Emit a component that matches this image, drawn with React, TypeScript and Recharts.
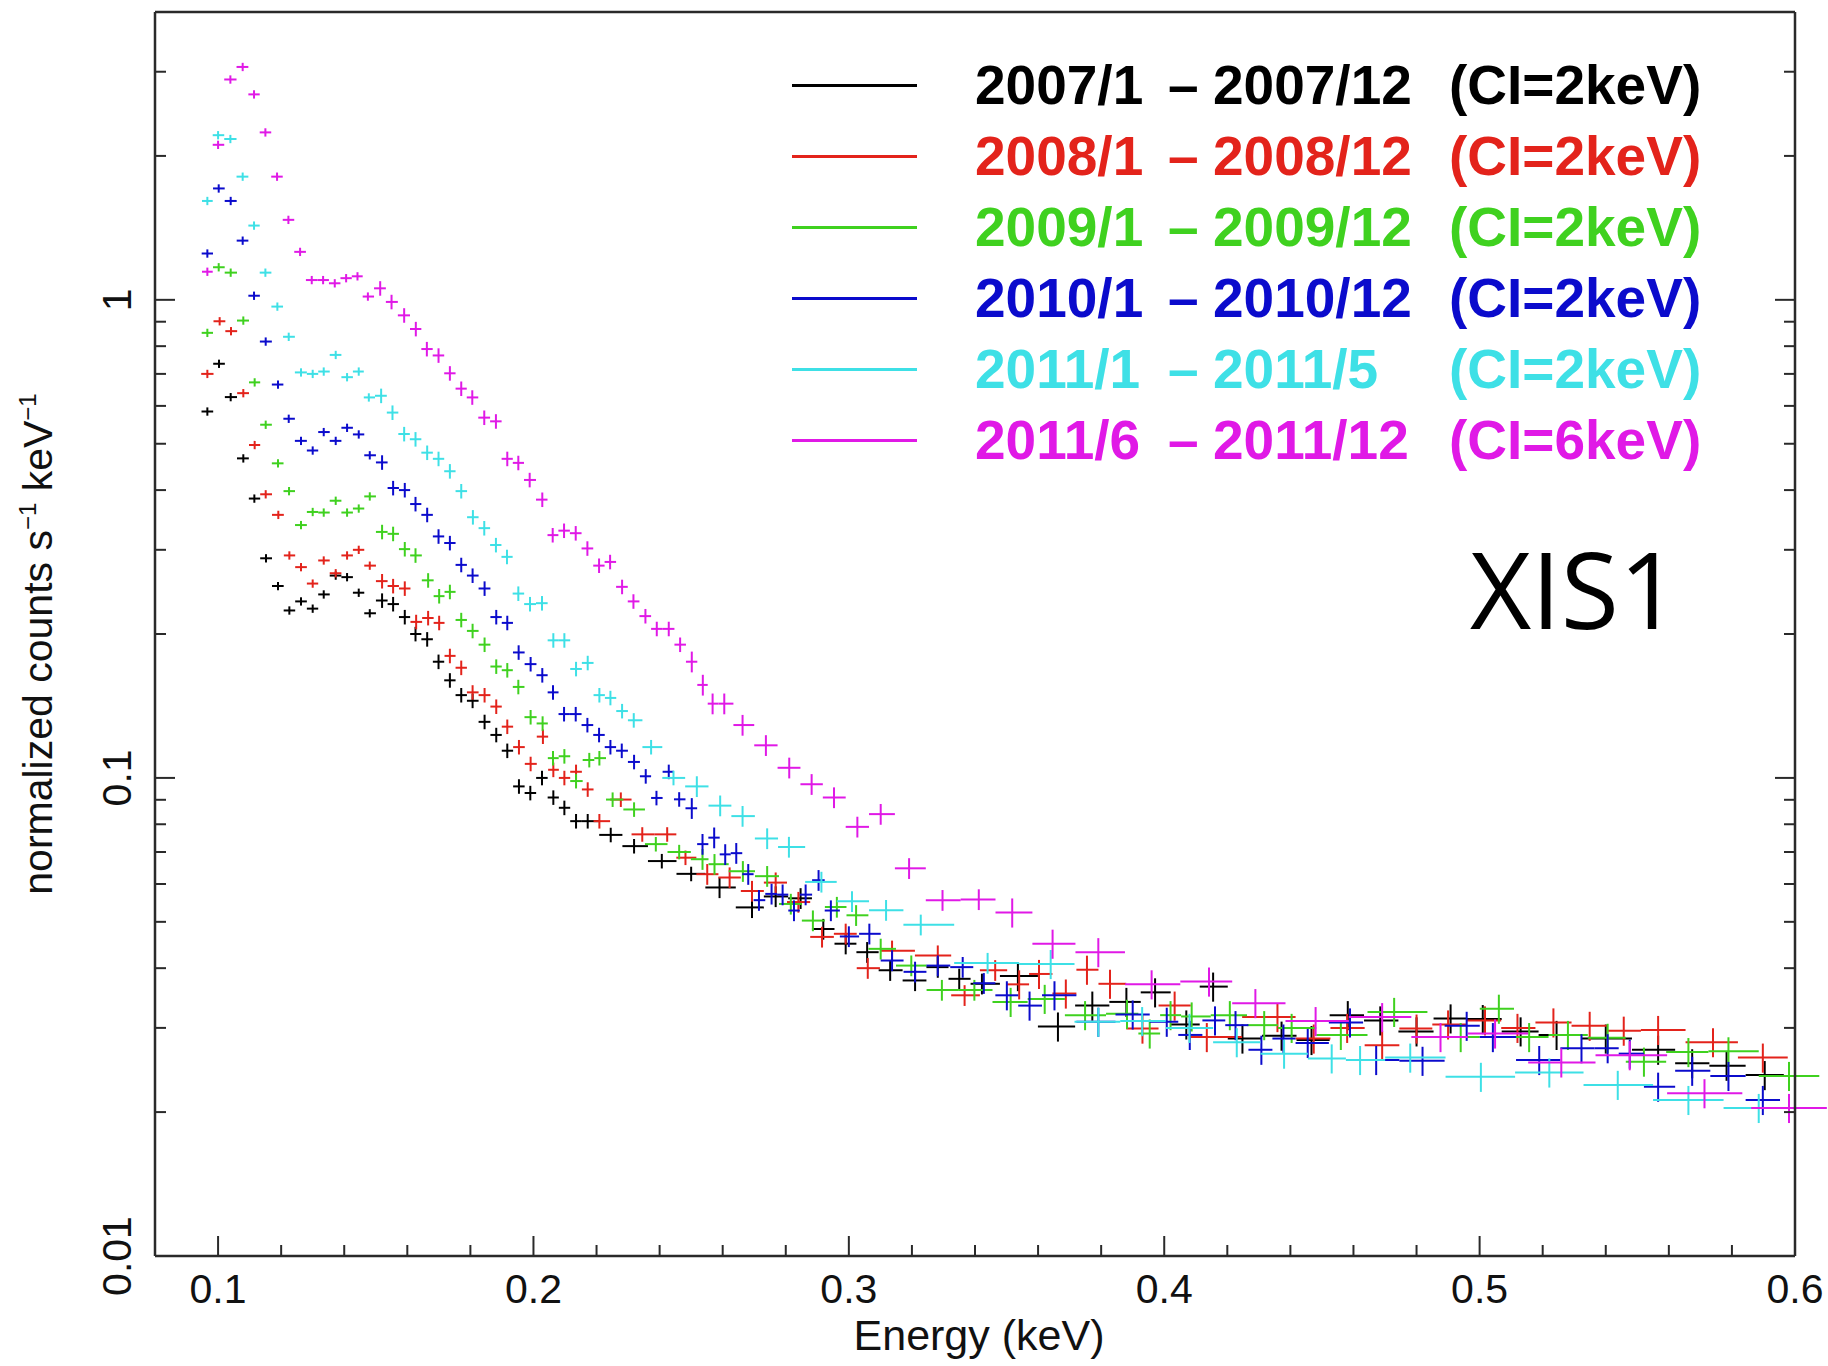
import { ErrorBar, Legend, Scatter, ScatterChart, XAxis, YAxis } from "recharts";

// [energy keV, normalized counts]
const s2007: [number, number][] = [
  [0.0966, 0.584], [0.1003, 0.735], [0.104, 0.626], [0.108, 0.466], [0.1115, 0.384],
  [0.1152, 0.288], [0.119, 0.252], [0.1226, 0.224], [0.1263, 0.234], [0.13, 0.226],
  [0.1335, 0.242], [0.1373, 0.265], [0.1409, 0.263], [0.1446, 0.244], [0.1481, 0.221],
  [0.152, 0.235], [0.1555, 0.231], [0.1592, 0.217], [0.1626, 0.2], [0.1663, 0.195],
  [0.1699, 0.175], [0.1735, 0.16], [0.1771, 0.149], [0.1807, 0.145], [0.1845, 0.131],
  [0.1882, 0.123], [0.1917, 0.114], [0.1954, 0.096], [0.199, 0.093], [0.2027, 0.1],
  [0.2063, 0.091], [0.2098, 0.0866], [0.2135, 0.0812], [0.2172, 0.0812], [0.2245, 0.076],
  [0.2319, 0.072], [0.2407, 0.067], [0.25, 0.063], [0.259, 0.059], [0.2693, 0.0536],
  [0.2768, 0.0565], [0.2847, 0.056], [0.2919, 0.0483], [0.299, 0.045], [0.3058, 0.0432],
  [0.3131, 0.0396], [0.321, 0.0377], [0.3282, 0.0402], [0.335, 0.038], [0.3422, 0.0371],
  [0.3536, 0.0385], [0.3663, 0.0302], [0.3772, 0.0334], [0.388, 0.034], [0.3971, 0.0356],
  [0.407, 0.0305], [0.4155, 0.0366], [0.4248, 0.0285], [0.4372, 0.0289], [0.4467, 0.0283],
  [0.4582, 0.0319], [0.4685, 0.0311], [0.48, 0.0295], [0.4908, 0.0314], [0.501, 0.0313],
  [0.513, 0.0295], [0.5244, 0.029], [0.54, 0.0285], [0.5566, 0.027], [0.5674, 0.0253],
  [0.5783, 0.025], [0.5904, 0.0239],
];

const s2008: [number, number][] = [
  [0.0966, 0.7], [0.1005, 0.902], [0.1041, 0.86], [0.108, 0.638], [0.1116, 0.497],
  [0.1151, 0.392], [0.1191, 0.355], [0.1226, 0.292], [0.1263, 0.276], [0.13, 0.255],
  [0.1335, 0.285], [0.1373, 0.268], [0.1409, 0.292], [0.1446, 0.3], [0.1481, 0.278],
  [0.152, 0.258], [0.1555, 0.252], [0.1592, 0.249], [0.1628, 0.212], [0.1666, 0.216],
  [0.1701, 0.211], [0.1735, 0.18], [0.1771, 0.17], [0.1807, 0.151], [0.1845, 0.149],
  [0.1882, 0.141], [0.1917, 0.128], [0.1954, 0.116], [0.1991, 0.107], [0.203, 0.122],
  [0.2063, 0.104], [0.2098, 0.1], [0.2135, 0.103], [0.2172, 0.0946], [0.2209, 0.0812],
  [0.2277, 0.0901], [0.2345, 0.0762], [0.2424, 0.0762], [0.2482, 0.0681], [0.2551, 0.0629],
  [0.2622, 0.0619], [0.2693, 0.058], [0.2768, 0.0604], [0.284, 0.055], [0.2915, 0.0465],
  [0.299, 0.0472], [0.306, 0.04], [0.3137, 0.0435], [0.3282, 0.0425], [0.3367, 0.0351],
  [0.3464, 0.0396], [0.354, 0.037], [0.3603, 0.0389], [0.3688, 0.0354], [0.3755, 0.0397],
  [0.3828, 0.0371], [0.3931, 0.0299], [0.4033, 0.0334], [0.4135, 0.0287], [0.4359, 0.0316],
  [0.4474, 0.0285], [0.458, 0.03], [0.4691, 0.0276], [0.48, 0.0299], [0.49, 0.0305],
  [0.5017, 0.0311], [0.512, 0.03], [0.5234, 0.0308], [0.5349, 0.0303], [0.5457, 0.0296],
  [0.5566, 0.0297], [0.574, 0.028], [0.5898, 0.026],
];

const s2009: [number, number][] = [
  [0.0966, 0.853], [0.1002, 1.17], [0.104, 1.14], [0.108, 0.905], [0.1116, 0.672],
  [0.1151, 0.548], [0.119, 0.455], [0.1225, 0.398], [0.1263, 0.338], [0.13, 0.36],
  [0.1335, 0.359], [0.1373, 0.38], [0.1409, 0.359], [0.1446, 0.366], [0.1481, 0.388],
  [0.152, 0.327], [0.1555, 0.324], [0.1592, 0.301], [0.1626, 0.292], [0.1666, 0.259],
  [0.1701, 0.24], [0.1735, 0.245], [0.1771, 0.214], [0.1807, 0.203], [0.1845, 0.19],
  [0.1882, 0.171], [0.1917, 0.168], [0.1952, 0.155], [0.1991, 0.134], [0.2029, 0.13],
  [0.2062, 0.11], [0.2098, 0.111], [0.2135, 0.0985], [0.2177, 0.109], [0.2209, 0.11],
  [0.2251, 0.0901], [0.2319, 0.0859], [0.2388, 0.0727], [0.2462, 0.07], [0.2536, 0.0676],
  [0.2574, 0.066], [0.2664, 0.0638], [0.2741, 0.0623], [0.2816, 0.0545], [0.2886, 0.0503],
  [0.2962, 0.0537], [0.3023, 0.0516], [0.3101, 0.0439], [0.3198, 0.0405], [0.3295, 0.036],
  [0.3398, 0.036], [0.3513, 0.034], [0.3621, 0.0345], [0.3749, 0.0319], [0.3882, 0.0321],
  [0.3954, 0.0292], [0.402, 0.0319], [0.4087, 0.0317], [0.4208, 0.0319], [0.4317, 0.0304],
  [0.4404, 0.03], [0.456, 0.029], [0.4729, 0.0324], [0.494, 0.0287], [0.5061, 0.0329],
  [0.5157, 0.0287], [0.528, 0.029], [0.5406, 0.0286], [0.5521, 0.0255], [0.5662, 0.0267],
  [0.5789, 0.0268], [0.5981, 0.0238],
];

const s2010: [number, number][] = [
  [0.0966, 1.25], [0.1002, 1.71], [0.104, 1.61], [0.1078, 1.33], [0.1114, 1.02],
  [0.1151, 0.818], [0.119, 0.665], [0.1224, 0.564], [0.1263, 0.507], [0.13, 0.484],
  [0.1335, 0.529], [0.1373, 0.507], [0.1409, 0.54], [0.1446, 0.523], [0.1481, 0.473],
  [0.152, 0.457], [0.1555, 0.404], [0.1592, 0.4], [0.1626, 0.374], [0.1663, 0.355],
  [0.1699, 0.32], [0.1735, 0.31], [0.1771, 0.279], [0.1807, 0.265], [0.1845, 0.249],
  [0.1882, 0.217], [0.1917, 0.211], [0.1953, 0.183], [0.1991, 0.173], [0.2028, 0.164],
  [0.2062, 0.151], [0.2097, 0.136], [0.2134, 0.136], [0.2171, 0.129], [0.2208, 0.123],
  [0.2244, 0.116], [0.228, 0.114], [0.2319, 0.108], [0.2356, 0.1008], [0.239, 0.0908],
  [0.2429, 0.103], [0.2462, 0.0902], [0.2502, 0.0864], [0.2536, 0.0727], [0.2573, 0.075],
  [0.2608, 0.0692], [0.2643, 0.0696], [0.2681, 0.0629], [0.2715, 0.0555], [0.2755, 0.0572],
  [0.279, 0.057], [0.2826, 0.0528], [0.2863, 0.057], [0.2904, 0.0611], [0.2943, 0.0528],
  [0.3, 0.0466], [0.3065, 0.0472], [0.3137, 0.0415], [0.321, 0.0393], [0.3282, 0.0405],
  [0.3361, 0.0402], [0.3428, 0.0372], [0.3501, 0.0351], [0.3573, 0.0334], [0.3652, 0.0351],
  [0.3791, 0.0309], [0.39, 0.032], [0.4008, 0.0309], [0.4081, 0.029], [0.4161, 0.0311],
  [0.4226, 0.0304], [0.4308, 0.027], [0.4378, 0.0285], [0.4455, 0.0279], [0.4589, 0.0308],
  [0.4672, 0.0257], [0.4819, 0.0256], [0.4959, 0.0303], [0.5042, 0.0287], [0.5189, 0.0257],
  [0.5323, 0.0272], [0.5406, 0.0272], [0.5476, 0.0265], [0.5566, 0.0226], [0.5674, 0.0244],
  [0.5789, 0.0238], [0.5898, 0.0212],
];

const s2011a: [number, number][] = [
  [0.0966, 1.61], [0.1, 2.21], [0.1039, 2.17], [0.1078, 1.81], [0.1114, 1.43],
  [0.115, 1.14], [0.1188, 0.968], [0.1224, 0.837], [0.1263, 0.705], [0.13, 0.7],
  [0.1335, 0.708], [0.1373, 0.767], [0.1409, 0.689], [0.1446, 0.708], [0.1478, 0.625],
  [0.1517, 0.63], [0.1553, 0.581], [0.159, 0.524], [0.1626, 0.511], [0.1663, 0.479],
  [0.1699, 0.465], [0.1735, 0.438], [0.1771, 0.398], [0.1808, 0.351], [0.1844, 0.333],
  [0.1881, 0.307], [0.1916, 0.29], [0.1952, 0.243], [0.1989, 0.231], [0.2027, 0.232],
  [0.2063, 0.194], [0.2098, 0.194], [0.2135, 0.169], [0.2172, 0.174], [0.2209, 0.149],
  [0.2244, 0.147], [0.2281, 0.138], [0.2318, 0.132], [0.2373, 0.116], [0.2444, 0.1],
  [0.2518, 0.096], [0.2592, 0.0875], [0.2663, 0.0832], [0.2741, 0.0747], [0.281, 0.0717],
  [0.2913, 0.0606], [0.301, 0.0552], [0.3118, 0.0529], [0.3228, 0.0493], [0.344, 0.041],
  [0.364, 0.0408], [0.3791, 0.0309], [0.393, 0.031], [0.408, 0.03], [0.423, 0.028],
  [0.438, 0.0265], [0.4531, 0.0259], [0.4621, 0.0257], [0.478, 0.026], [0.5004, 0.0237],
  [0.5221, 0.0242], [0.5438, 0.0228], [0.5662, 0.0212], [0.5885, 0.0204],
];

const s2011b: [number, number][] = [
  [0.0966, 1.145], [0.1, 2.11], [0.1039, 2.89], [0.1078, 3.07], [0.1114, 2.69],
  [0.115, 2.24], [0.1187, 1.81], [0.1223, 1.47], [0.126, 1.26], [0.1297, 1.1],
  [0.1333, 1.1], [0.137, 1.083], [0.1406, 1.11], [0.1442, 1.12], [0.1475, 1.016],
  [0.1514, 1.057], [0.155, 0.99], [0.159, 0.928], [0.1627, 0.869], [0.1662, 0.789],
  [0.1699, 0.765], [0.1735, 0.702], [0.1771, 0.652], [0.1806, 0.625], [0.1844, 0.567],
  [0.1881, 0.557], [0.1917, 0.465], [0.1952, 0.456], [0.1988, 0.42], [0.2028, 0.382],
  [0.2061, 0.322], [0.2097, 0.329], [0.2134, 0.325], [0.2171, 0.302], [0.2208, 0.278],
  [0.2243, 0.283], [0.2281, 0.251], [0.2317, 0.234], [0.2355, 0.218], [0.2391, 0.205],
  [0.2429, 0.205], [0.2465, 0.19], [0.2502, 0.175], [0.2537, 0.1565], [0.2568, 0.143],
  [0.2605, 0.143], [0.2663, 0.129], [0.2737, 0.117], [0.2811, 0.105], [0.2882, 0.097],
  [0.2953, 0.091], [0.3027, 0.079], [0.3101, 0.084], [0.3191, 0.0647], [0.3297, 0.0555],
  [0.3412, 0.0557], [0.3518, 0.0523], [0.3646, 0.045], [0.3791, 0.0432], [0.396, 0.037],
  [0.4142, 0.0375], [0.4289, 0.0338], [0.448, 0.031], [0.4691, 0.0316], [0.4876, 0.0287],
  [0.5049, 0.0292], [0.5259, 0.0254], [0.5476, 0.0263], [0.5713, 0.0219], [0.5981, 0.0204],
];

const spectra = [s2007, s2008, s2009, s2010, s2011a, s2011b];
const periodStart = ["2007/1", "2008/1", "2009/1", "2010/1", "2011/1", "2011/6"];
const periodEnd = ["2007/12", "2008/12", "2009/12", "2010/12", "2011/5", "2011/12"];
const ciNote = ["(CI=2keV)", "(CI=2keV)", "(CI=2keV)", "(CI=2keV)", "(CI=2keV)", "(CI=6keV)"];

// rough fractional 1-sigma error on the counts, by energy band
const relErrBands = [
  { upTo: 0.15, rel: 0.02 },
  { upTo: 0.25, rel: 0.035 },
  { upTo: 0.35, rel: 0.05 },
  { upTo: 1, rel: 0.07 },
];

const xMajorTicks = [0.1, 0.2, 0.3, 0.4, 0.5, 0.6];
const xMinorTicks = [
  0.12, 0.14, 0.16, 0.18, 0.22, 0.24, 0.26, 0.28, 0.32, 0.34,
  0.36, 0.38, 0.42, 0.44, 0.46, 0.48, 0.52, 0.54, 0.56, 0.58,
];
const yMajorTicks = [0.01, 0.1, 1];
const yMinorTicks = [
  0.02, 0.03, 0.04, 0.05, 0.06, 0.07, 0.08, 0.09,
  0.2, 0.3, 0.4, 0.5, 0.6, 0.7, 0.8, 0.9, 2, 3,
];

const colors = ["#000000", "#e3231b", "#3fd11f", "#0b0bcc", "#3ee0e6", "#e019e6"];
const FRAME = "#2a2a2a";
const FONT = "'Liberation Sans', Arial, Helvetica, sans-serif";

const xTicks = [...xMajorTicks, ...xMinorTicks].sort((a, b) => a - b);
const yTicks = [...yMajorTicks, ...yMinorTicks].sort((a, b) => a - b);

const isMajor = (v: number, majors: number[]) =>
  majors.some((m) => Math.abs(m - v) < 1e-9);

// bins are taken as half way to the neighbouring channels
function withErrors(pairs: [number, number][]) {
  return pairs.map(([e, c], i) => {
    const prev = i > 0 ? pairs[i - 1][0] : null;
    const next = i < pairs.length - 1 ? pairs[i + 1][0] : null;
    const lo = prev !== null ? (e - prev) / 2 : ((next as number) - e) / 2;
    const hi = next !== null ? (next - e) / 2 : (e - (prev as number)) / 2;
    const rel = relErrBands.find((b) => e <= b.upTo)?.rel ?? 0.07;
    return {
      e,
      c,
      eErr: [Math.min(lo, 0.012), Math.min(hi, 0.012)],
      cErr: [c * rel, c * rel],
    };
  });
}

function BottomTick(props: any) {
  const { x, y, payload } = props;
  const major = isMajor(payload.value, xMajorTicks);
  return (
    <g>
      <line x1={x} x2={x} y1={y} y2={y - (major ? 20 : 11)} stroke={FRAME} strokeWidth={2} />
      {major && (
        <text x={x} y={y + 47} textAnchor="middle" fontSize={41} fontFamily={FONT} fill="#111">
          {payload.value.toFixed(1)}
        </text>
      )}
    </g>
  );
}

function TopTick(props: any) {
  const { x, y, payload } = props;
  const major = isMajor(payload.value, xMajorTicks);
  return <line x1={x} x2={x} y1={y} y2={y + (major ? 20 : 11)} stroke={FRAME} strokeWidth={2} />;
}

function LeftTick(props: any) {
  const { x, y, payload } = props;
  const major = isMajor(payload.value, yMajorTicks);
  const lx = x - 38;
  return (
    <g>
      <line x1={x} x2={x + (major ? 20 : 11)} y1={y} y2={y} stroke={FRAME} strokeWidth={2} />
      {major && (
        <text
          transform={`translate(${lx}, ${y}) rotate(-90)`}
          textAnchor="middle"
          dominantBaseline="central"
          fontSize={41}
          fontFamily={FONT}
          fill="#111"
        >
          {String(payload.value)}
        </text>
      )}
    </g>
  );
}

function RightTick(props: any) {
  const { x, y, payload } = props;
  const major = isMajor(payload.value, yMajorTicks);
  return <line x1={x} x2={x - (major ? 20 : 11)} y1={y} y2={y} stroke={FRAME} strokeWidth={2} />;
}

function XTitle(props: any) {
  const { viewBox } = props;
  return (
    <text
      x={viewBox.x + viewBox.width / 2 + 4}
      y={viewBox.y + 94}
      textAnchor="middle"
      fontSize={43}
      fontFamily={FONT}
      fill="#111"
    >
      Energy (keV)
    </text>
  );
}

function YTitle(props: any) {
  const { viewBox } = props;
  const cy = viewBox.y + viewBox.height / 2 + 10;
  return (
    <text
      transform={`translate(52, ${cy}) rotate(-90)`}
      textAnchor="middle"
      fontSize={41}
      fontFamily={FONT}
      fill="#111"
    >
      normalized counts s
      <tspan fontSize={24} dy={-16}>−1</tspan>
      <tspan dy={16}> keV</tspan>
      <tspan fontSize={24} dy={-16}>−1</tspan>
    </text>
  );
}

function SpectraLegend() {
  const rowY = [85, 156, 227, 298, 369, 440];
  const text = { position: "absolute" as const, height: 60, lineHeight: "60px", fontSize: 55, fontWeight: 700, fontFamily: FONT, whiteSpace: "nowrap" as const };
  return (
    <div style={{ position: "relative", width: 1828, height: 0 }}>
      {periodStart.map((p, i) => (
        <div key={p}>
          <div style={{ position: "absolute", left: 792, top: rowY[i] - 1.5, width: 125, height: 3, background: colors[i] }} />
          <div style={{ ...text, left: 975, top: rowY[i] - 30, color: colors[i] }}>{p}</div>
          <div style={{ ...text, left: 1168, top: rowY[i] - 30, color: colors[i] }}>–</div>
          <div style={{ ...text, left: 1213, top: rowY[i] - 30, color: colors[i] }}>{periodEnd[i]}</div>
          <div style={{ ...text, left: 1449, top: rowY[i] - 30, color: colors[i] }}>{ciNote[i]}</div>
        </div>
      ))}
    </div>
  );
}

const noMarker = () => <g />;

export default function App() {
  return (
    <div style={{ position: "absolute", left: 0, top: 0, width: 1828, height: 1366, background: "#fff" }}>
      <ScatterChart width={1828} height={1366} margin={{ top: 0, right: 0, bottom: 0, left: 0 }}>
        <XAxis
          xAxisId="b"
          dataKey="e"
          type="number"
          orientation="bottom"
          domain={[0.08, 0.6]}
          allowDataOverflow
          ticks={xTicks}
          interval={0}
          height={110}
          tickSize={0}
          tickMargin={0}
          tickLine={false}
          tick={(p: any) => <BottomTick {...p} />}
          axisLine={{ stroke: FRAME, strokeWidth: 2.5 }}
          label={<XTitle />}
        />
        <XAxis
          xAxisId="t"
          type="number"
          orientation="top"
          domain={[0.08, 0.6]}
          allowDataOverflow
          ticks={xTicks}
          interval={0}
          height={12}
          tickSize={0}
          tickMargin={0}
          tickLine={false}
          tick={(p: any) => <TopTick {...p} />}
          axisLine={{ stroke: FRAME, strokeWidth: 2.5 }}
        />
        <YAxis
          yAxisId="l"
          dataKey="c"
          type="number"
          scale="log"
          orientation="left"
          domain={[0.01, 4]}
          allowDataOverflow
          ticks={yTicks}
          interval={0}
          width={155}
          tickSize={0}
          tickMargin={0}
          tickLine={false}
          tick={(p: any) => <LeftTick {...p} />}
          axisLine={{ stroke: FRAME, strokeWidth: 2.5 }}
          label={<YTitle />}
        />
        <YAxis
          yAxisId="r"
          type="number"
          scale="log"
          orientation="right"
          domain={[0.01, 4]}
          allowDataOverflow
          ticks={yTicks}
          interval={0}
          width={33}
          tickSize={0}
          tickMargin={0}
          tickLine={false}
          tick={(p: any) => <RightTick {...p} />}
          axisLine={{ stroke: FRAME, strokeWidth: 2.5 }}
        />
        {spectra.map((s, i) => (
          <Scatter
            key={periodStart[i]}
            name={`${periodStart[i]} – ${periodEnd[i]} ${ciNote[i]}`}
            data={withErrors(s)}
            xAxisId="b"
            yAxisId="l"
            fill={colors[i]}
            shape={noMarker}
            legendType="none"
            isAnimationActive={false}
          >
            <ErrorBar dataKey="eErr" direction="x" width={0} stroke={colors[i]} strokeWidth={2} isAnimationActive={false} />
            <ErrorBar dataKey="cErr" direction="y" width={0} stroke={colors[i]} strokeWidth={2} isAnimationActive={false} />
          </Scatter>
        ))}
        <Legend
          layout="horizontal"
          verticalAlign="middle"
          align="center"
          content={() => <SpectraLegend />}
          wrapperStyle={{ left: 0, top: 0, width: 1828, height: 0 }}
        />
      </ScatterChart>
      <div
        style={{
          position: "absolute",
          left: 1470,
          top: 535,
          fontSize: 106,
          lineHeight: 1,
          fontFamily: "'Open Sans', 'Noto Sans', sans-serif",
          color: "#000",
          whiteSpace: "nowrap",
        }}
      >
        XIS1
      </div>
    </div>
  );
}
